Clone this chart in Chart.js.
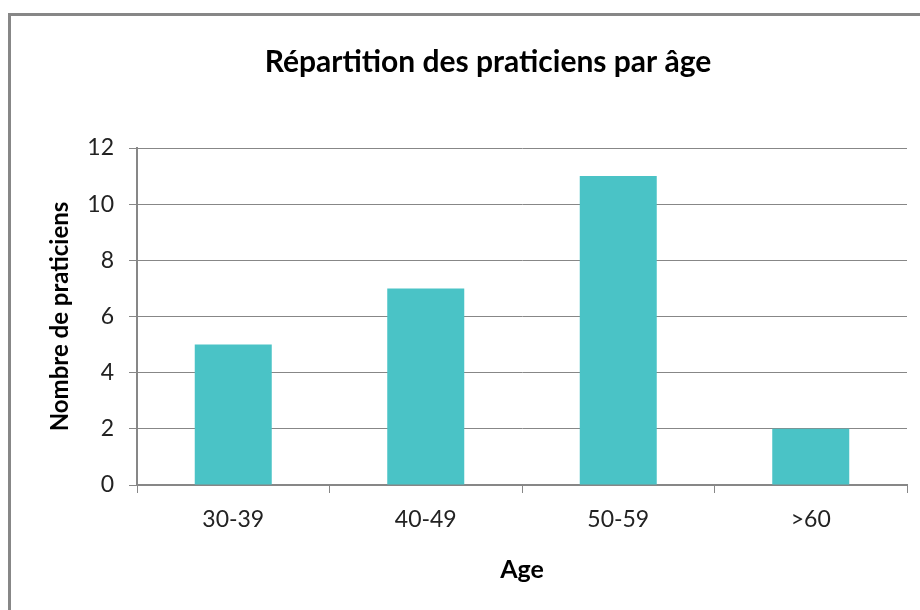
<!DOCTYPE html>
<html>
<head>
<meta charset="utf-8">
<script src="https://cdn.jsdelivr.net/npm/chart.js@4/dist/chart.umd.min.js"></script>
<style>
    html, body { margin: 0; padding: 0; background: #fff; overflow: hidden; }
    #frame { position: absolute; left: 8px; top: 13px; width: 1000px; height: 700px; border: 3px solid #878787; }
    #wrap { position: absolute; left: 0; top: 0; width: 920px; height: 610px; }
</style>
</head>
<body>
<div id="frame"></div>
<div id="wrap"><canvas id="age_chart" width="920" height="610"></canvas></div>
<script>
// Données
const categories = ["30-39", "40-49", "50-59", ">60"];
const praticiens = [5, 7, 11, 2];
const yTicks = [0, 2, 4, 6, 8, 10, 12];
const chartTitle = "Répartition des praticiens par âge";

const fontFamily = "Lato, 'Open Sans', sans-serif";
const grey = "#878787";

// Titre dessiné à la main pour le centrer comme dans l'original (pas sur la zone du graphique)
const titrePlugin = {
    id: "titre",
    afterDraw: function (chart) {
        const c = chart.ctx;
        c.save();
        c.font = "bold 30px " + fontFamily;
        c.fillStyle = "#000";
        c.textAlign = "center";
        c.textBaseline = "middle";
        c.fillText(chartTitle, 488, 62);
        c.restore();
    },
};

var ctx = document.getElementById("age_chart").getContext("2d");

new Chart(ctx, {
    type: "bar",
    data: {
        labels: categories,
        datasets: [
            {
                label: "Nombre de praticiens",
                data: praticiens,
                backgroundColor: "#4AC3C6",
                borderWidth: 0,
                categoryPercentage: 1,
                barPercentage: 0.4,
            },
        ],
    },
    plugins: [titrePlugin],
    options: {
        responsive: false,
        animation: false,
        layout: {
            padding: { left: 0, right: 13, top: 148, bottom: 0 },
        },
        plugins: {
            legend: { display: false },
            tooltip: { enabled: false },
            title: { display: false },
        },
        scales: {
            x: {
                grid: {
                    drawOnChartArea: false,
                    drawTicks: true,
                    tickLength: 8,
                    color: grey,
                },
                border: { color: grey, width: 2 },
                ticks: {
                    color: "#222",
                    padding: 13,
                    font: { family: fontFamily, size: 23 },
                },
                title: {
                    display: true,
                    text: "Age",
                    color: "#000",
                    font: { family: fontFamily, size: 25, weight: "bold", lineHeight: 1.2 },
                    padding: { top: 0, bottom: 25 },
                },
                afterFit: function (scale) {
                    scale.height = 125;
                },
            },
            y: {
                min: 0,
                max: 12,
                afterBuildTicks: function (scale) {
                    scale.ticks = yTicks.map((v) => ({ value: v }));
                },
                grid: {
                    color: grey,
                    lineWidth: 1,
                    drawTicks: true,
                    tickLength: 8,
                },
                border: { color: grey, width: 2 },
                ticks: {
                    color: "#222",
                    padding: 15,
                    font: { family: fontFamily, size: 23 },
                },
                title: {
                    display: true,
                    text: "Nombre de praticiens",
                    color: "#000",
                    font: { family: fontFamily, size: 24, weight: "bold", lineHeight: 1.2 },
                    padding: { top: 46, bottom: 0 },
                },
                afterFit: function (scale) {
                    scale.width = 137;
                },
            },
        },
    },
});
</script>
</body>
</html>
